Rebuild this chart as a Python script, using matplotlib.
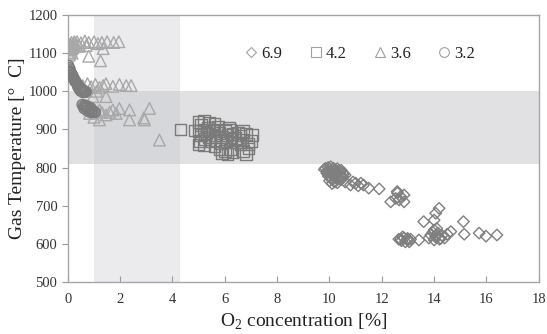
import numpy as np
import matplotlib
matplotlib.use('Agg')
import matplotlib.pyplot as plt
from matplotlib.lines import Line2D

plt.rcParams['font.family'] = ['Liberation Serif', 'DejaVu Serif']
plt.rcParams['mathtext.fontset'] = 'custom'
plt.rcParams['mathtext.rm'] = 'Liberation Serif'

###############################
###  Data  ###
###############################

# lambda 6.9 (diamonds)
o2_69 = [9.8, 9.85, 9.9, 9.95, 10.0, 10.05, 10.1, 10.15, 10.2, 10.25, 10.3, 10.35, 10.4, 10.45, 10.5, 10.55, 10.6,
         9.9, 10.0, 10.1, 10.2, 10.3, 10.4, 10.5, 9.95, 10.05, 10.15, 10.25, 10.35, 10.45, 10.0, 10.1, 10.2, 10.3,
         10.1, 10.8, 11.0, 11.2, 11.3, 11.5, 11.9, 10.6, 10.9, 11.1,
         12.34, 12.53, 12.59, 12.72, 12.85, 12.66, 12.6, 12.85,
         14.19, 14.06, 14.0, 13.6, 15.12, 14.0,
         12.72, 12.98, 13.42, 13.87, 14.1, 14.25, 14.64, 15.15, 15.72, 15.98, 16.4,
         12.65, 12.75, 12.85, 12.9, 13.0, 13.1, 12.8, 13.05,
         13.95, 14.05, 14.15, 14.2, 14.3, 14.4, 14.5, 14.1, 14.0, 13.8]
temp_69 = [795, 798, 790, 800, 796, 802, 792, 798, 795, 790, 797, 792, 788, 793, 786, 784, 780,
           785, 788, 782, 786, 782, 778, 776, 778, 775, 778, 772, 770, 768, 765, 768, 762, 760,
           758, 754, 759, 759, 754, 746, 744, 762, 762, 752,
           710, 719, 737, 724, 728, 715, 733, 710,
           693, 680, 662, 658, 658, 636,
           612, 614, 610, 623, 623, 614, 632, 625, 628, 620, 623,
           612, 608, 615, 605, 610, 612, 618, 605,
           630, 618, 628, 612, 622, 615, 625, 640, 610, 615]

# lambda 4.2 (squares)
o2_42 = [4.3, 4.85, 5.0, 5.2, 5.4, 5.1, 5.6,
         5.0, 5.1, 5.2, 5.3, 5.4, 5.5, 5.6, 5.7, 5.8, 5.9, 6.0, 6.1, 6.2, 6.3, 6.4, 6.5, 6.6, 6.7, 6.8,
         5.05, 5.25, 5.45, 5.65, 5.85, 6.05, 6.25, 6.45, 6.65, 5.35, 5.75, 6.15, 5.0, 5.2,
         5.8, 5.9, 6.0, 6.1, 6.2, 6.3, 6.6, 6.7, 6.8, 6.9, 7.05, 7.0, 6.9, 5.6]
temp_42 = [900, 897, 920, 923, 918, 912, 914,
           895, 885, 900, 890, 880, 895, 885, 900, 890, 880, 895, 885, 898, 888, 878, 892, 884, 896, 888,
           870, 875, 868, 872, 865, 870, 875, 866, 872, 905, 908, 905, 860, 858,
           848, 838, 843, 836, 848, 840, 860, 843, 836, 850, 885, 870, 862, 855]

# lambda 3.6 (triangles)
o2_36 = [0.05, 0.08, 0.12, 0.15, 0.10, 0.18, 0.22, 0.06, 0.14, 0.20, 0.25, 0.09, 0.16, 0.28,
         0.35, 0.5, 0.65, 0.8, 1.0, 1.15, 1.3, 1.5, 1.75, 1.95, 0.45, 0.7, 1.35, 0.8, 1.25, 0.4,
         0.57, 0.75, 0.89, 1.05, 1.21, 1.35, 1.46, 1.72, 1.97, 2.23, 2.42, 0.96, 1.46, 0.7, 1.1,
         1.21, 1.72, 1.97, 2.36, 3.12, 1.21, 2.36, 2.93, 0.83, 1.46, 1.85, 1.0, 1.6, 3.5, 2.9, 1.3]
temp_36 = [1095, 1102, 1108, 1112, 1118, 1120, 1125, 1110, 1128, 1115, 1130, 1124, 1100, 1122,
           1130, 1127, 1132, 1128, 1130, 1125, 1128, 1130, 1128, 1130, 1118, 1120, 1112, 1092, 1080, 1122,
           1015, 1020, 1012, 1018, 1010, 1015, 1020, 1013, 1018, 1015, 1015, 986, 986, 1000, 1000,
           951, 951, 955, 951, 955, 925, 925, 925, 942, 938, 942, 932, 945, 872, 930, 945]

# lambda 3.2 (circles)
o2_32 = [0.02, 0.05, 0.08, 0.03, 0.10, 0.12, 0.06, 0.15, 0.18, 0.14, 0.20, 0.22, 0.25, 0.19, 0.28, 0.30,
         0.33, 0.27, 0.36, 0.40, 0.38, 0.44, 0.48, 0.45, 0.52, 0.55, 0.50, 0.58, 0.62, 0.60, 0.66, 0.70,
         0.55, 0.60, 0.65, 0.70, 0.62, 0.75, 0.80, 0.72, 0.85, 0.90, 0.82, 0.95, 1.00, 0.92, 1.05, 0.68, 0.78, 0.88]
temp_32 = [1068, 1062, 1058, 1055, 1052, 1048, 1050, 1045, 1042, 1040, 1037, 1034, 1031, 1035, 1028, 1025,
           1022, 1026, 1019, 1016, 1012, 1010, 1008, 1004, 1005, 1002, 1000, 999, 1001, 997, 998, 999,
           965, 962, 960, 958, 955, 957, 954, 950, 952, 948, 946, 950, 946, 944, 945, 963, 960, 956]

labels = ['6.9', '4.2', '3.6', '3.2']

x_ticks = [0, 2, 4, 6, 8, 10, 12, 14, 16, 18]
y_ticks = [500, 600, 700, 800, 900, 1000, 1100, 1200]

#####################
###  Build chart  ###
#####################
fig = plt.figure(figsize=(5.47, 3.34), dpi=100)
ax = fig.add_axes([0.124, 0.156, 0.861, 0.799])

# shaded target regions
ax.axvspan(1.0, 4.3, color='#c8c8cc', alpha=0.35, lw=0, zorder=0)
ax.axhspan(810, 1000, color='#c0c1c5', alpha=0.47, lw=0, zorder=0)

ax.scatter(o2_69, temp_69, marker='D', s=34, facecolors='none', edgecolors='#7f7f7f', linewidths=1.0, zorder=3)
ax.scatter(o2_42, temp_42, marker='s', s=70, facecolors='none', edgecolors='#7a7a7a', linewidths=1.0, zorder=3)
ax.scatter(o2_36, temp_36, marker='^', s=70, facecolors='none', edgecolors='#a8a8a8', linewidths=1.0, zorder=3)
ax.scatter(o2_32, temp_32, marker='o', s=55, facecolors='none', edgecolors='#7c7c7c', linewidths=1.0, zorder=3)

ax.set_xlim(0, 18)
ax.set_ylim(500, 1200)
ax.set_xticks(x_ticks)
ax.set_yticks(y_ticks)
ax.tick_params(axis='x', direction='in', length=4, color='#9a9a9a', labelsize=10.5, labelcolor='#333333', pad=8)
ax.tick_params(axis='y', direction='out', length=4, color='#9a9a9a', labelsize=10.5, labelcolor='#333333')
for sp in ax.spines.values():
    sp.set_color('#a6a6a6')
    sp.set_linewidth(1.0)

ax.set_xlabel(r'O$_\mathrm{2}$ concentration [%]', fontsize=14, color='#222222', labelpad=4)
ax.set_ylabel('Gas Temperature [°  C]', fontsize=14, color='#222222', labelpad=2)

# legend with small open markers
handles = [Line2D([], [], ls='none', marker=m, ms=ms, mfc='none', mec='#a0a0a0', mew=0.8)
           for m, ms in zip(['D', 's', '^', 'o'], [5, 7, 7, 7])]
ax.legend(handles, labels, loc='center', bbox_to_anchor=(0.62, 0.855), ncol=4, frameon=False,
          fontsize=12, handlelength=0.8, handletextpad=0.2, columnspacing=1.6, labelcolor='#222222')

fig.savefig('out.png', dpi=100)
